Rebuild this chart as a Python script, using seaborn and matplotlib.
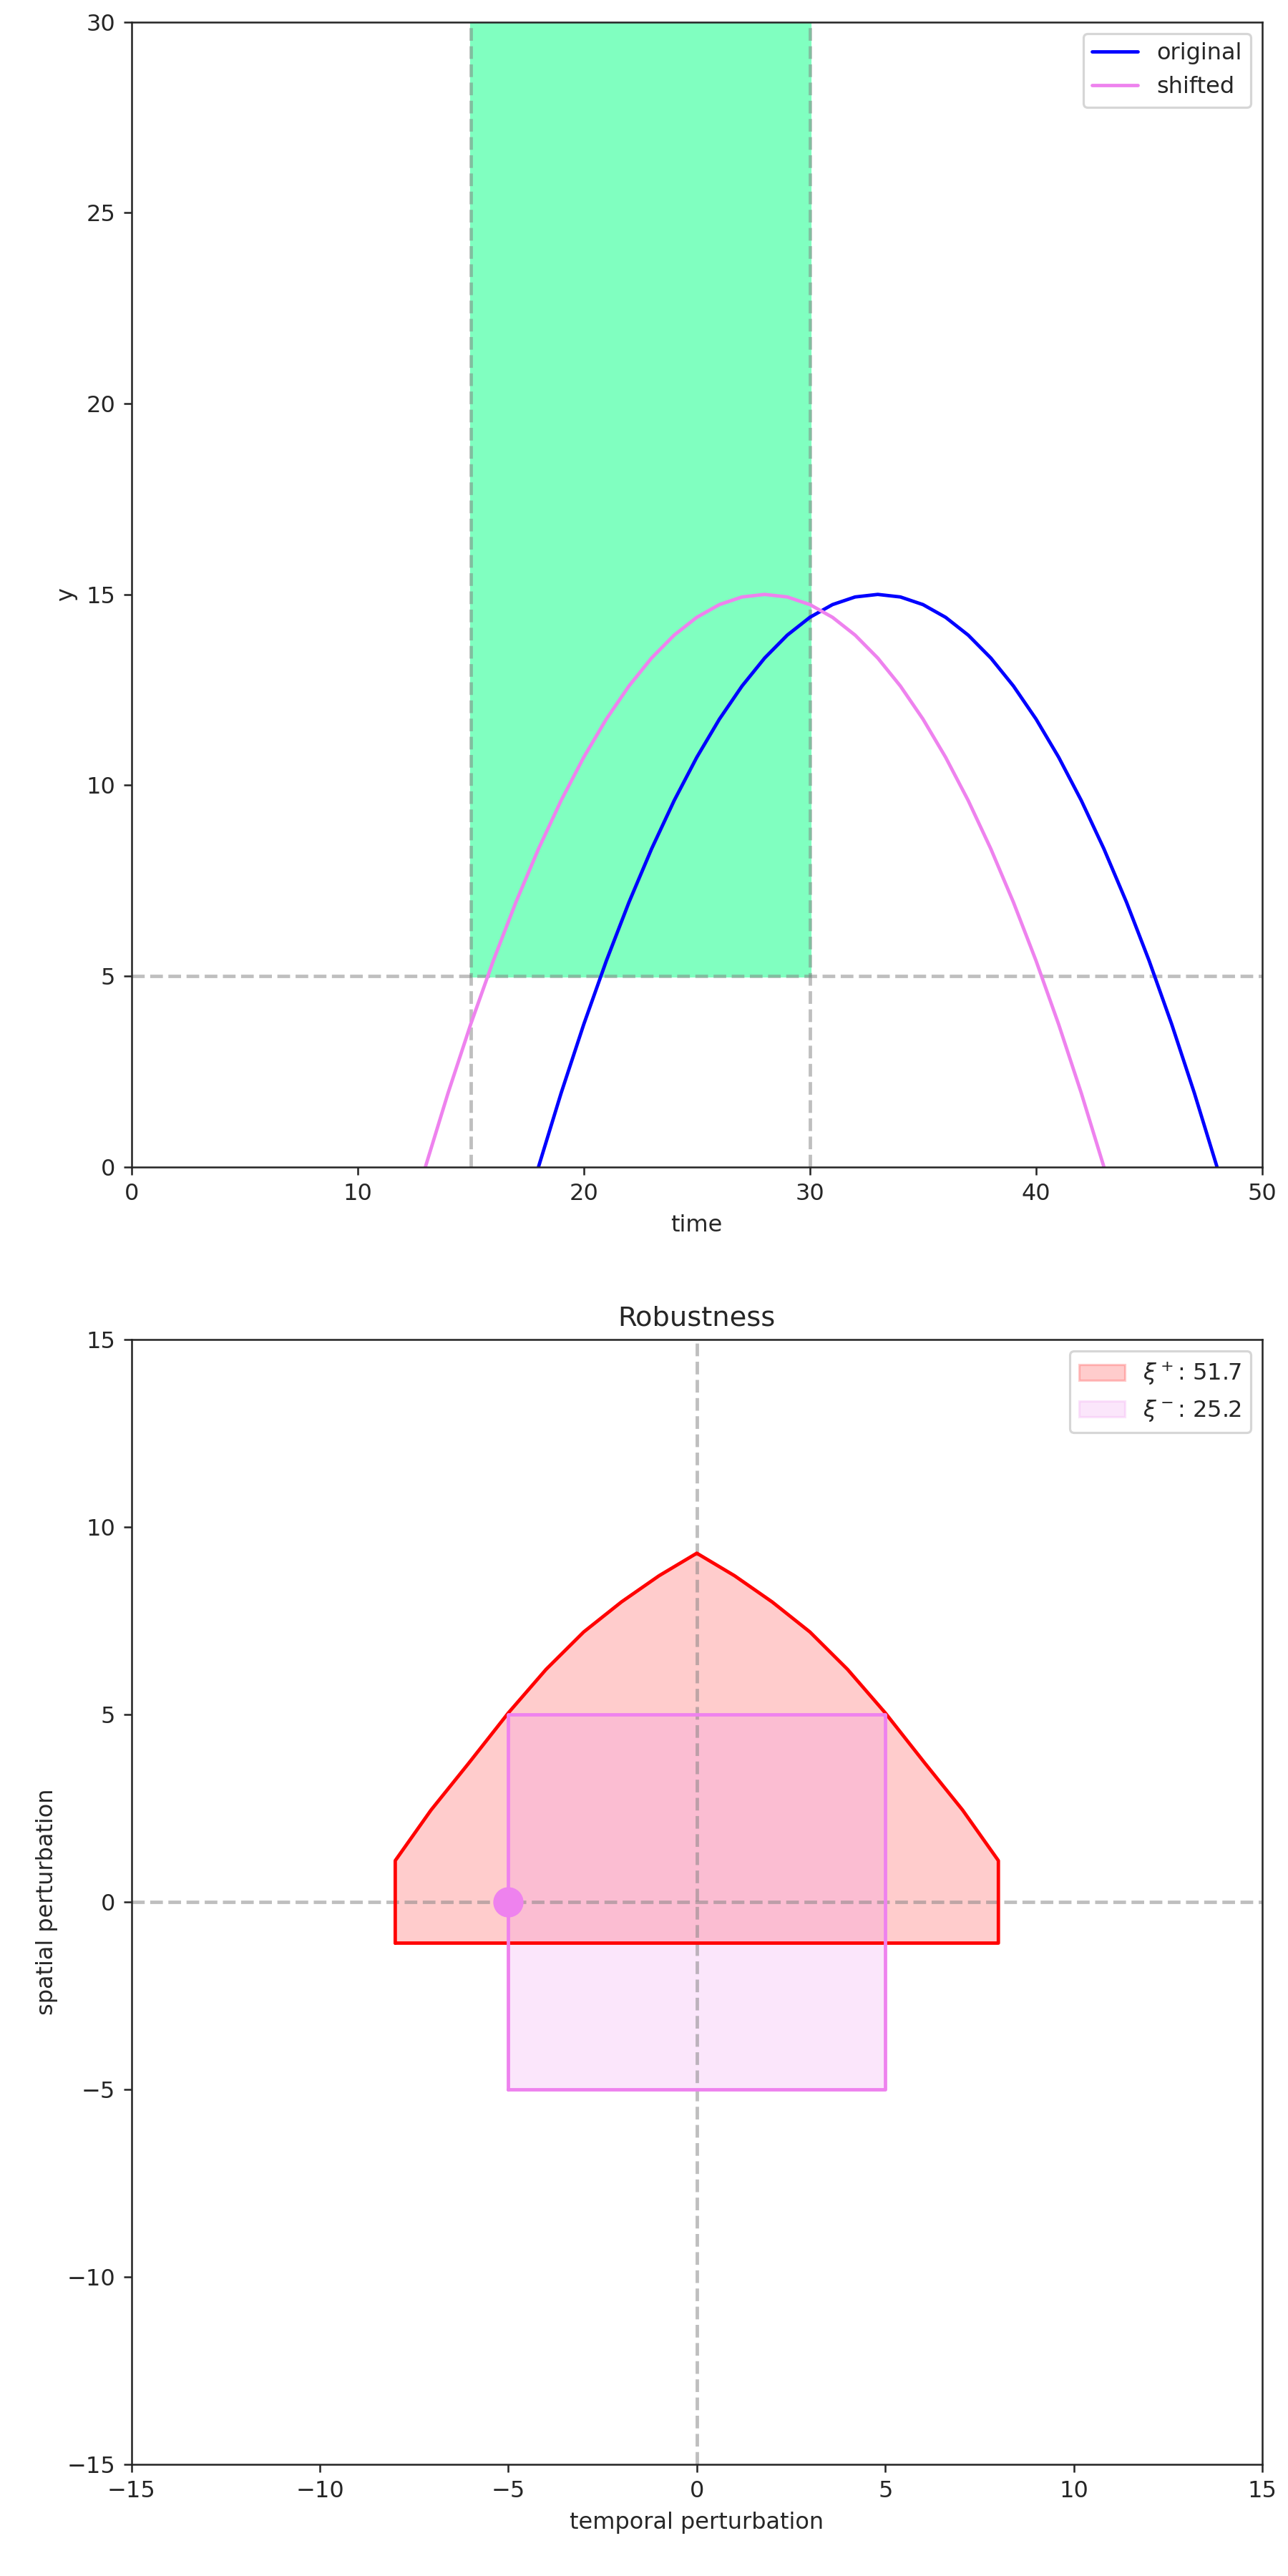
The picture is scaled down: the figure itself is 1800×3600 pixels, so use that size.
import numpy as np
import pandas as pd
import matplotlib
matplotlib.use("Agg")
import matplotlib.pyplot as plt
import seaborn as sns
from matplotlib.patches import Patch

sns.set_style("ticks")
plt.rcParams['font.family'] = ['DejaVu Sans']

# top panel data
t_orig = list(range(18, 49))
y_orig = [15 - (t - 33) ** 2 / 15 for t in t_orig]
t_shift = list(range(13, 44))
y_shift = [15 - (t - 28) ** 2 / 15 for t in t_shift]
win_t = [15, 30]
thr = 5

# bottom panel data (half boundary, mirrored)
bx = [-8, -8, -7.05, -6.05, -5, -4, -3, -2, -1, 0, 1, 2, 3, 4, 5, 6.05, 7.05, 8, 8]
by = [-1.1, 1.1, 2.45, 3.7, 5.04, 6.2, 7.2, 8.0, 8.7, 9.3, 8.7, 8.0, 7.2, 6.2, 5.04, 3.7, 2.45, 1.1, -1.1]
xi_plus = 51.7
xi_minus = 25.2
rect = [-5, 5]

fig = plt.figure(figsize=(1800/230, 3600/230), dpi=230)
ax1 = fig.add_axes([0.102, 0.547, 0.878, 0.4445])
ax1.fill_between(win_t, thr, 30, color='#80ffc0', zorder=0)
for x in win_t:
    ax1.axvline(x, color='gray', ls='--', alpha=0.5)
ax1.axhline(thr, color='gray', ls='--', alpha=0.5)
sns.lineplot(x=t_orig, y=y_orig, ax=ax1, color='blue', label='original')
sns.lineplot(x=t_shift, y=y_shift, ax=ax1, color='violet', label='shifted')
ax1.set_xlim(0, 50); ax1.set_ylim(0, 30)
ax1.set_xlabel('time'); ax1.set_ylabel('y')
ax1.legend(loc='upper right')

ax2 = fig.add_axes([0.102, 0.0434, 0.878, 0.4366])
ax2.axvline(0, color='gray', ls='--', alpha=0.5)
ax2.axhline(0, color='gray', ls='--', alpha=0.5)
ax2.fill(bx, by, color='red', alpha=0.2, lw=0)
poly = pd.DataFrame({'x': bx + [bx[0]], 'y': by + [by[0]]})
ax2.plot(poly['x'], poly['y'], color='red')
rx = [rect[0], rect[1], rect[1], rect[0], rect[0]]
ry = [rect[0], rect[0], rect[1], rect[1], rect[0]]
ax2.fill(rx, ry, color='violet', alpha=0.2, lw=0)
ax2.plot(rx, ry, color='violet')
sns.scatterplot(x=[-5], y=[0], ax=ax2, color='violet', s=150, edgecolor='violet', zorder=5)
ax2.set_xlim(-15, 15); ax2.set_ylim(-15, 15)
ax2.set_xlabel('temporal perturbation'); ax2.set_ylabel('spatial perturbation')
ax2.set_title('Robustness')
ax2.legend(handles=[Patch(facecolor='red', edgecolor='red', alpha=0.2, label=r'$\xi^+$: %.1f' % xi_plus),
                    Patch(facecolor='violet', edgecolor='violet', alpha=0.2, label=r'$\xi^-$: %.1f' % xi_minus)],
           loc='upper right')
fig.savefig('out.png', dpi=230)
